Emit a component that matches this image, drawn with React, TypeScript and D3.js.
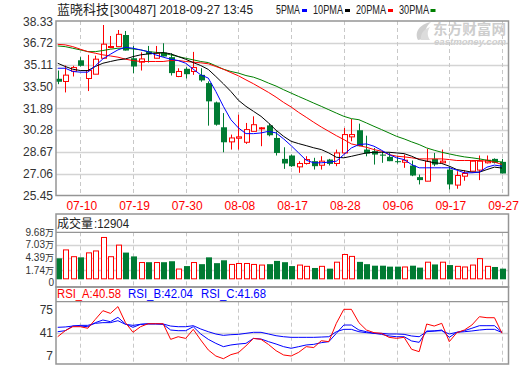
import React from 'react';
import * as d3 from 'd3';

const dates = [
  '07-05','07-06','07-09','07-10','07-11','07-12','07-13','07-16','07-17','07-18','07-19','07-20','07-23','07-24','07-25','07-26','07-27','07-30','07-31',
  '08-01','08-02','08-03','08-06','08-07','08-08','08-09','08-10','08-13','08-14','08-15','08-16','08-17','08-20','08-21','08-22','08-23','08-24','08-27','08-28','08-29','08-30','08-31',
  '09-03','09-04','09-05','09-06','09-07','09-10','09-11','09-12','09-13','09-14','09-17','09-18','09-19','09-20','09-21','09-25','09-26','09-27'
];
const tickDates = ['07-10','07-19','07-30','08-08','08-17','08-28','09-06','09-17','09-27'];

const open = [34.09,33.89,34.65,35.46,34.11,34.43,35.61,36.42,36.47,37.33,35.61,35.32,36.10,35.61,36.03,35.69,34.26,34.83,34.63,34.38,
  33.77,32.34,30.50,29.42,29.69,29.39,30.20,30.44,30.64,29.71,28.16,28.41,27.57,27.82,27.99,27.69,28.11,27.82,28.60,29.79,
  30.28,28.85,28.73,28.48,28.31,27.99,27.91,27.67,26.81,26.51,28.16,27.87,27.37,26.22,26.88,27.25,27.33,27.87,28.16,27.94];
const high = [34.70,35.07,35.05,35.69,35.86,35.80,38.07,37.26,37.70,37.63,36.52,36.05,36.52,36.52,36.72,35.98,34.87,34.95,36.08,34.87,
  33.90,32.40,31.55,29.96,31.43,30.82,31.31,30.52,30.77,30.20,29.02,28.48,27.99,28.36,28.24,28.36,28.16,28.85,30.45,31.11,
  30.77,29.88,28.97,28.73,28.60,28.36,28.48,28.04,27.00,28.90,28.60,28.85,27.62,27.25,27.33,28.04,28.41,28.41,28.20,28.16];
const low = [33.69,33.08,34.26,35.00,33.18,34.43,35.61,36.35,36.47,36.18,34.51,34.70,35.29,35.61,35.74,34.33,34.21,34.11,34.38,33.87,
  30.62,30.62,28.65,28.85,28.85,29.27,30.20,29.10,29.83,28.41,27.42,27.57,27.13,27.74,27.37,27.37,27.67,27.62,28.53,29.46,
  29.10,28.35,27.74,27.87,27.99,27.82,27.50,26.88,26.27,26.51,27.62,27.82,25.90,25.95,26.54,27.25,26.59,27.82,27.82,27.08];
const close = [33.87,34.36,34.92,35.05,34.70,35.54,36.65,36.48,37.38,36.18,35.00,35.56,35.91,35.98,35.74,34.51,34.63,34.43,34.92,33.97,
  32.42,30.69,29.39,29.71,29.79,30.33,30.69,30.46,29.91,28.60,27.82,27.62,27.82,28.11,27.62,27.99,27.79,28.60,29.96,29.96,
  29.10,28.55,28.48,28.40,27.99,27.94,28.06,26.93,26.59,27.99,27.74,27.99,26.27,26.93,27.08,27.99,27.99,28.06,27.87,27.08];

const ma5 = [34.87,34.87,34.63,34.58,34.58,35.05,35.56,35.91,36.23,36.42,36.35,36.23,36.10,35.86,35.69,35.54,35.44,35.24,34.80,34.38,
  34.14,33.15,32.05,31.06,30.45,30.03,30.03,30.08,30.20,30.08,29.64,29.14,28.60,28.06,27.87,27.87,27.92,27.99,28.48,28.97,
  29.22,29.27,29.10,28.80,28.48,28.24,28.11,27.74,27.50,27.50,27.50,27.50,27.50,27.33,27.13,27.13,27.18,27.55,27.70,27.62];
const ma10 = [35.24,35.00,34.80,34.70,34.70,35.00,35.24,35.37,35.49,35.56,35.73,35.86,35.93,35.98,36.03,35.94,35.74,35.53,35.29,35.07,
  34.78,34.26,33.72,33.15,32.50,32.05,31.68,31.31,30.82,30.28,29.83,29.46,29.29,29.14,28.98,28.85,28.60,28.28,28.24,28.35,
  28.48,28.60,28.65,28.65,28.65,28.60,28.55,28.36,28.11,27.99,27.87,27.82,27.62,27.37,27.28,27.18,27.18,27.37,27.55,27.48];
const ma20 = [36.64,36.60,36.47,36.28,36.10,35.98,35.86,35.78,35.69,35.54,35.44,35.37,35.37,35.37,35.37,35.44,35.44,35.37,35.32,35.27,
  35.20,35.00,34.80,34.55,34.31,34.01,33.72,33.40,33.08,32.73,32.34,32.00,31.60,31.24,30.87,30.52,30.20,29.88,29.59,29.27,
  29.14,29.02,28.85,28.73,28.48,28.36,28.31,28.24,28.16,28.16,28.16,28.16,28.11,28.04,28.04,28.04,28.04,27.99,27.92,27.75];
const ma30 = [36.52,36.47,36.35,36.23,36.10,36.10,36.18,36.28,36.35,36.35,36.30,36.23,36.10,36.05,35.98,35.86,35.73,35.61,35.49,35.37,
  35.29,35.05,34.80,34.63,34.51,34.33,34.21,34.01,33.77,33.55,33.28,33.03,32.78,32.54,32.29,32.05,31.80,31.55,31.31,31.14,
  31.06,30.82,30.57,30.33,30.08,29.83,29.64,29.42,29.22,28.97,28.80,28.65,28.53,28.41,28.31,28.24,28.16,28.06,27.99,27.93];

const volume = [4.23,6.00,4.58,4.44,5.38,5.78,8.60,4.58,7.00,5.44,4.64,3.36,3.43,3.36,3.43,3.63,2.00,2.62,3.36,3.02,
  4.44,3.23,3.83,2.96,3.16,3.16,2.96,2.83,3.02,3.70,3.43,2.62,2.83,2.56,2.22,2.56,2.08,3.43,5.04,4.64,
  3.50,3.02,2.70,2.70,2.50,2.50,2.43,2.70,2.30,3.43,2.96,3.43,2.83,2.56,2.43,2.83,4.17,2.56,2.43,2.08];

const rsiA = [35.5,44.4,50.3,50.3,48,61.2,74,70,80,56.3,42,50.3,54.7,54.7,54.7,31.6,35.5,33,46.4,30.6,15.9,7,3,9,12,22,33,
  31.6,24,14.8,8.5,7,12.4,20.8,19.5,29.6,28.2,55.3,76,76,56.3,45.4,41.5,40.5,34.6,33.1,34.6,16.9,13.4,54.3,51.3,55.3,28.2,41.5,45.4,52.8,65.1,63.6,63.6,40.58];
const rsiB = [42.9,44.4,51.3,51.3,50.3,56.3,60.2,57.7,64.1,54.3,49.4,53.8,54.7,54.7,53.8,45.4,44.4,44.4,50.3,39.5,31.6,25.7,20.8,23.3,24.7,25.7,33,
  32.1,28.2,24.7,20.8,18.4,20.8,23.3,24.2,26.7,28.2,40.5,52.8,52.8,45.4,42.9,40.5,39,36.6,35.5,35.5,29.2,27.2,44,44,45.4,34.6,42,44.4,48,51.8,51.8,51.8,42.04];
const rsiC = [49.4,49.9,51.3,52.3,52.3,55.3,56.3,56.3,59.2,53.8,52.3,53.8,54.3,54.3,54.3,51.3,50.3,50.3,51.8,46.9,42.9,39.5,37.5,38.5,39,40.5,42,
  42,39.5,37,35.5,34.6,34.6,34.6,34.6,35,35.5,42.9,46.4,46.4,42.9,41.5,40.5,40.5,39.5,39.5,39,36.6,35.5,42.9,44,44.4,39.5,42,42.9,44,45.4,46.4,46.4,41.68];

const priceTicks = [38.33, 36.72, 35.11, 33.50, 31.89, 30.28, 28.67, 27.06, 25.45];
const volTicks = [0, 1.74, 4.39, 7.03, 9.68];
const rsiTicks = [75, 41, 7];
const lastVolume = '12904';

const UP = '#ff0000';
const DOWN = '#007b33';
const FRAME = '#959595';
const GRID = '#d4d4d4';
const NUMFONT = '"Liberation Sans", Arial, sans-serif';
const CJKFONT = '"Noto Sans CJK SC", sans-serif';

const L = 56, R = 508.5;
const MAIN_T = 21, MAIN_B = 195.5;
const VOL_T = 214, VOL_SEP = 232.3, VOL_B = 287;
const VOL_BASE = 279.3;
const RSI_T = 287, RSI_SEP = 301.7, RSI_B = 364;

export default function App() {
  const x = d3.scalePoint<string>().domain(dates).range([57.7, 502]);
  const yP = d3.scaleLinear().domain([25.45, 38.33]).range([195.5, 21.5]);
  const yV = d3.scaleLinear().domain([0, 9.68]).range([278.6, VOL_SEP]);
  const yR = d3.scaleLinear().domain([7, 75]).range([356, 310]);
  const px = (i: number) => Math.round(x(dates[i]) as number);

  const priceLine = d3.line<number>().x((_, i) => x(dates[i]) as number).y(d => yP(d));
  const rsiLine = d3.line<number>().x((_, i) => x(dates[i]) as number).y(d => yR(d));

  const tickX = tickDates.map(d => Math.round(x(d) as number) + 0.5);

  return (
    <svg width={520} height={365} style={{ position: 'absolute', left: 0, top: 0, background: '#fff' }}>
      <rect x={0} y={0} width={520} height={365} fill="#fff" />
      {/* title */}
      <text x={57} y={13.5} fontFamily={CJKFONT} fontSize={13} fill="#222">蓝晓科技</text>
      <text x={110} y={13.5} fontFamily={NUMFONT} fontSize={12} fill="#222" textLength={143} lengthAdjust="spacingAndGlyphs">[300487] 2018-09-27 13:45</text>
      {/* legend */}
      {[
        { t: '5PMA', x: 276, w: 24, c: '#0000ff', r: 302 },
        { t: '10PMA', x: 313, w: 30, c: '#000000', r: 345 },
        { t: '20PMA', x: 356, w: 30, c: '#ff0000', r: 388 },
        { t: '30PMA', x: 399, w: 30, c: '#008000', r: 430.5 },
      ].map(l => (
        <g key={l.t}>
          <text x={l.x} y={14} fontFamily={NUMFONT} fontSize={12} fill="#222" textLength={l.w} lengthAdjust="spacingAndGlyphs">{l.t}</text>
          <rect x={l.r} y={9} width={5} height={3} fill={l.c} />
        </g>
      ))}
      {/* watermark */}
      <g>
        <path d="M418,40 C414,32 420,24 431,22 C425,27 424,33 428,38 Z" fill="#cfcfcf" />
        <path d="M421,40 C420,34 424,29 430,27 C427,31 427,36 430,40 Z" fill="#dcdcdc" />
        <text x={433} y={33.5} fontFamily={CJKFONT} fontSize={13.5} fontWeight="bold" fill="#cdcdcd" textLength={73} lengthAdjust="spacingAndGlyphs">东方财富网</text>
        <text x={434} y={44.5} fontFamily={NUMFONT} fontSize={8.5} fontWeight="bold" fontStyle="italic" fill="#cdcdcd" textLength={72} lengthAdjust="spacingAndGlyphs">eastmoney.com</text>
      </g>

      {/* main grid */}
      {priceTicks.slice(1, -1).map(p => (
        <line key={p} x1={L} x2={R} y1={Math.round(yP(p)) + 0.5} y2={Math.round(yP(p)) + 0.5} stroke={GRID} strokeWidth={1.5} />
      ))}
      {tickX.map((tx, k) => (
        <line key={'mv' + k} x1={tx} x2={tx} y1={MAIN_T} y2={MAIN_B} stroke="#c8c8c8" strokeDasharray="4,3" />
      ))}
      {priceTicks.map(p => (
        <text key={'pt' + p} x={53} y={yP(p)} dy="0.35em" textAnchor="end" fontFamily={NUMFONT} fontSize={12} fill="#333">{p.toFixed(2)}</text>
      ))}
      {tickDates.map(d => (
        <text key={'dt' + d} x={(x(d) as number) + 1.5} y={210} textAnchor="middle" fontFamily={NUMFONT} fontSize={12} fill="#ff0000">{d}</text>
      ))}

      {/* candles */}
      {dates.map((d, i) => {
        const c = px(i);
        const up = close[i] >= open[i];
        const top = yP(Math.max(open[i], close[i]));
        const bot = yP(Math.min(open[i], close[i]));
        const h = Math.max(1, bot - top);
        return (
          <g key={'c' + i}>
            <line x1={c + 0.5} x2={c + 0.5} y1={yP(high[i])} y2={yP(low[i])} stroke={up ? UP : DOWN} strokeWidth={1} />
            {up ? (
              <rect x={c - 1.5} y={top} width={5} height={h} fill="#fff" stroke={UP} strokeWidth={1} />
            ) : (
              <rect x={c - 2} y={top} width={6} height={h} fill={DOWN} />
            )}
          </g>
        );
      })}
      {/* moving averages */}
      <path d={priceLine(ma30) || ''} fill="none" stroke="#008000" strokeWidth={1} />
      <path d={priceLine(ma20) || ''} fill="none" stroke="#ff0000" strokeWidth={1} />
      <path d={priceLine(ma10) || ''} fill="none" stroke="#000000" strokeWidth={1} />
      <path d={priceLine(ma5) || ''} fill="none" stroke="#0000ff" strokeWidth={1} />
      <rect x={L} y={MAIN_T} width={R - L} height={MAIN_B - MAIN_T} fill="none" stroke={FRAME} strokeWidth={1.5} />

      {/* volume panel */}
      {volTicks.slice(1, -1).map(v => (
        <line key={'vg' + v} x1={L} x2={R} y1={Math.round(yV(v)) + 0.5} y2={Math.round(yV(v)) + 0.5} stroke={GRID} strokeWidth={1.5} />
      ))}
      {tickX.map((tx, k) => (
        <line key={'vv' + k} x1={tx} x2={tx} y1={VOL_SEP} y2={VOL_B} stroke="#c8c8c8" strokeDasharray="4,3" />
      ))}
      {volume.map((v, i) => {
        const c = px(i);
        const up = close[i] >= open[i];
        const t = yV(v);
        return up ? (
          <rect key={'v' + i} x={c - 1.5} y={t} width={5} height={VOL_BASE - t - 0.5} fill="#fff" stroke={UP} strokeWidth={1} />
        ) : (
          <rect key={'v' + i} x={c - 2} y={t} width={6} height={VOL_BASE - t} fill={DOWN} />
        );
      })}
      <line x1={L} x2={R} y1={VOL_SEP} y2={VOL_SEP} stroke={FRAME} strokeWidth={1.2} />
      <rect x={L} y={VOL_T} width={R - L} height={VOL_B - VOL_T} fill="none" stroke={FRAME} strokeWidth={1.5} />
      <text x={57} y={228} fontFamily={CJKFONT} fontSize={12} fill="#222">成交量</text>
      <text x={94} y={228} fontFamily={NUMFONT} fontSize={12} fill="#222" textLength={35} lengthAdjust="spacingAndGlyphs">{':' + lastVolume}</text>
      {volTicks.map(v => (
        <text key={'vt' + v} x={54} y={v === 0 ? 282 : yV(v)} dy="0.35em" textAnchor="end" fontFamily={NUMFONT} fontSize={10} fill="#333">
          {v === 0 ? '0' : v.toFixed(2)}
          {v === 0 ? null : <tspan fontFamily={CJKFONT} fontSize={9}>万</tspan>}
        </text>
      ))}

      {/* RSI panel */}
      <line x1={L} x2={R} y1={Math.round(yR(41)) + 0.5} y2={Math.round(yR(41)) + 0.5} stroke={GRID} strokeWidth={1.5} />
      {tickX.map((tx, k) => (
        <line key={'rv' + k} x1={tx} x2={tx} y1={RSI_SEP} y2={RSI_B} stroke="#c8c8c8" strokeDasharray="4,3" />
      ))}
      <path d={rsiLine(rsiC) || ''} fill="none" stroke="#0000ff" strokeWidth={1} />
      <path d={rsiLine(rsiB) || ''} fill="none" stroke="#0000ff" strokeWidth={1} />
      <path d={rsiLine(rsiA) || ''} fill="none" stroke="#ff0000" strokeWidth={1} />
      <line x1={L} x2={R} y1={RSI_SEP} y2={RSI_SEP} stroke={FRAME} strokeWidth={1.2} />
      <rect x={L} y={RSI_T} width={R - L} height={RSI_B - RSI_T} fill="none" stroke={FRAME} strokeWidth={1.5} />
      <text x={57} y={298} fontFamily={NUMFONT} fontSize={12} fill="#ff0000" textLength={64} lengthAdjust="spacingAndGlyphs">{'RSI_A:' + rsiA[59].toFixed(2)}</text>
      <text x={128} y={298} fontFamily={NUMFONT} fontSize={12} fill="#0000ff" textLength={65} lengthAdjust="spacingAndGlyphs">{'RSI_B:' + rsiB[59].toFixed(2)}</text>
      <text x={201} y={298} fontFamily={NUMFONT} fontSize={12} fill="#0000ff" textLength={65} lengthAdjust="spacingAndGlyphs">{'RSI_C:' + rsiC[59].toFixed(2)}</text>
      {rsiTicks.map(v => (
        <text key={'rt' + v} x={53} y={yR(v)} dy="0.35em" textAnchor="end" fontFamily={NUMFONT} fontSize={12} fill="#333">{v}</text>
      ))}
    </svg>
  );
}
